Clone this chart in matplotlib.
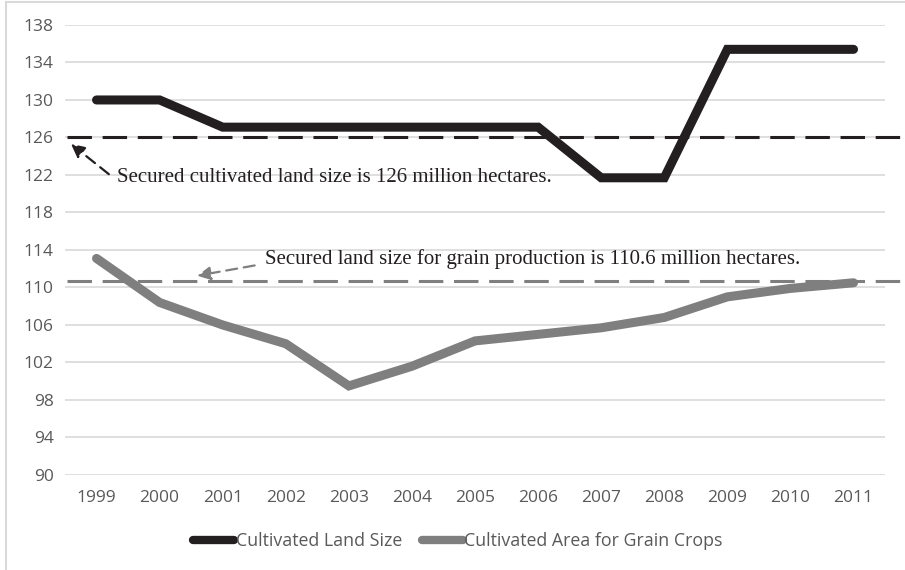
import matplotlib.pyplot as plt
from matplotlib.lines import Line2D

years = ['1999', '2000', '2001', '2002', '2003', '2004', '2005', '2006',
         '2007', '2008', '2009', '2010', '2011']
land_size = [130, 130, 127.1, 127.1, 127.1, 127.1, 127.1, 127.1,
             121.7, 121.7, 135.4, 135.4, 135.4]
grain_area = [113.1, 108.4, 106.0, 104.0, 99.5, 101.6, 104.3, 105.0,
              105.7, 106.8, 109.0, 109.9, 110.5]
secured_land = 126.0
secured_grain = 110.7
yticks = [90, 94, 98, 102, 106, 110, 114, 118, 122, 126, 130, 134, 138]

label_font = ['Open Sans', 'DejaVu Sans']
note_font = ['Liberation Serif', 'DejaVu Serif']

fig = plt.figure(figsize=(9.05, 5.70), dpi=100)
ax = fig.add_axes([0.0718, 0.1667, 0.9062, 0.7895])

x = list(range(len(years)))
ax.plot(x, land_size, color='#231f20', lw=6.5, solid_capstyle='round',
        solid_joinstyle='miter', label='Cultivated Land Size', zorder=4, clip_on=False)
ax.plot(x, grain_area, color='#7f7f80', lw=6.5, solid_capstyle='round',
        solid_joinstyle='miter', label='Cultivated Area for Grain Crops', zorder=3, clip_on=False)

# secured levels, running past the plot on the right
ax.axhline(secured_land, xmin=0.003, xmax=1.03, color='#231f20', lw=2.2,
           dashes=(8, 3.5), clip_on=False, zorder=5)
ax.axhline(secured_grain, xmin=0.003, xmax=1.03, color='#7f7f80', lw=2.2,
           dashes=(8, 3.5), clip_on=False, zorder=2)

ax.annotate('', xy=(-0.5 + 0.06, secured_land - 0.5), xytext=(0.23, 121.9),
            arrowprops=dict(arrowstyle='-|>', color='#231f20', lw=1.6,
                            linestyle=(0, (5, 3)), mutation_scale=20))
ax.text(0.33, 121.7, 'Secured cultivated land size is 126 million hectares.',
        family=note_font, fontsize=15, color='#231f20', va='center')

ax.annotate('', xy=(1.55, secured_grain + 0.5), xytext=(2.55, 112.4),
            arrowprops=dict(arrowstyle='-|>', color='#7f7f80', lw=1.6,
                            linestyle=(0, (5, 3)), mutation_scale=20))
ax.text(2.67, 113.0, 'Secured land size for grain production is 110.6 million hectares.',
        family=note_font, fontsize=15, color='#231f20', va='center')

ax.set_xlim(-0.5, len(years) - 0.5)
ax.set_ylim(90, 138)
ax.set_xticks(x)
ax.set_xticklabels(years)
ax.set_yticks(yticks)
ax.grid(axis='y', color='#d9d9d9', lw=1.2)
ax.set_axisbelow(True)
for s in ax.spines.values():
    s.set_visible(False)
ax.tick_params(length=0, labelsize=12.5, colors='#595959', pad=11)
ax.tick_params(axis='y', pad=8)
for lab in ax.get_xticklabels() + ax.get_yticklabels():
    lab.set_family(label_font)

leg = fig.legend(handles=[Line2D([], [], color='#231f20', lw=6, solid_capstyle='round'),
                          Line2D([], [], color='#7f7f80', lw=6, solid_capstyle='round')],
                 labels=['Cultivated Land Size', 'Cultivated Area for Grain Crops'],
                 loc='center', bbox_to_anchor=(0.506, 0.05), ncol=2, frameon=False,
                 handlelength=2.3, handletextpad=0.1, columnspacing=1.1,
                 prop={'family': label_font, 'size': 12.8})
for t in leg.get_texts():
    t.set_color('#595959')

# light frame round the figure, left and top only
fig.add_artist(Line2D([0.007, 0.007], [0, 0.997], color='#d9d9d9', lw=1.5))
fig.add_artist(Line2D([0.007, 1], [0.997, 0.997], color='#d9d9d9', lw=1.5))

fig.savefig('out.png', dpi=100)
